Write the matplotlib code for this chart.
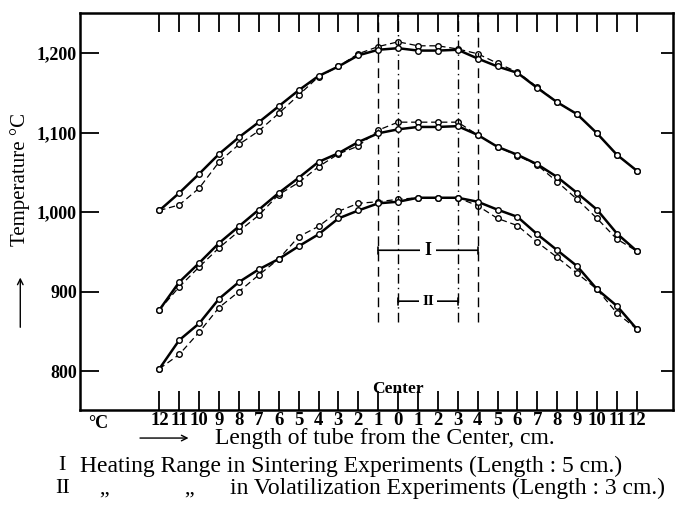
import numpy as np
import matplotlib
matplotlib.use('Agg')
import matplotlib.pyplot as plt

plt.rcParams['font.family'] = ['Liberation Serif', 'DejaVu Serif']

# distance from the centre of the tube, cm (left side shown as 12 ... 1)
pos = list(range(-12, 13))

# upper group of curves
upper_solid = [1002, 1024, 1048, 1073, 1094, 1113, 1133, 1153, 1171, 1183, 1197, 1204, 1206,
               1203, 1203, 1204, 1193, 1183, 1175, 1156, 1138, 1123, 1099, 1072, 1052]
upper_dash = [1002, 1009, 1030, 1063, 1085, 1102, 1124, 1147, 1170, 1183, 1199, 1208, 1214,
              1209, 1209, 1205, 1199, 1187, 1176, 1157, 1138, 1123, 1099, 1072, 1052]
# middle group
mid_solid = [877, 912, 936, 961, 982, 1003, 1024, 1043, 1063, 1074, 1088, 1099, 1104,
             1107, 1107, 1108, 1097, 1082, 1072, 1060, 1044, 1024, 1003, 973, 951]
mid_dash = [877, 906, 931, 955, 976, 996, 1022, 1037, 1057, 1073, 1083, 1103, 1113,
            1113, 1113, 1113, 1097, 1082, 1071, 1059, 1038, 1016, 992, 966, 951]
# lower group
low_solid = [803, 839, 860, 891, 912, 928, 941, 957, 972, 992, 1002, 1011, 1013,
             1018, 1018, 1018, 1013, 1003, 994, 972, 952, 932, 903, 882, 853]
low_dash = [803, 821, 849, 880, 900, 921, 941, 969, 982, 1001, 1011, 1013, 1016,
            1018, 1018, 1018, 1008, 992, 983, 962, 943, 923, 903, 873, 853]

y_ticks = [800, 900, 1000, 1100, 1200]
y_tick_labels = ['800', '900', '1,000', '1,100', '1,200']
x_tick_labels = [str(abs(p)) for p in pos]

# heating ranges: I (sintering) and II (volatilization)
range_I = (-1, 4)
range_II = (0, 3)

fig = plt.figure(figsize=(6.76, 5.07), dpi=100)
ax = fig.add_axes([0.118, 0.191, 0.877, 0.783])

for ys in (upper_solid, mid_solid, low_solid):
    ax.plot(pos, ys, color='black', lw=1.8, marker='o', ms=4, mfc='white', mec='black', mew=1, zorder=3)
for ys in (upper_dash, mid_dash, low_dash):
    ax.plot(pos, ys, color='black', lw=0.9, ls=(0, (5, 3)), marker='o', ms=4, mfc='white', mec='black',
            mew=1, zorder=2)

# boundary lines of the heating ranges
ax.vlines([range_I[0], range_I[1]], 862, 1250, colors='black', lw=1, linestyles=(0, (7, 4)))
ax.vlines([range_II[0], range_II[1]], 862, 1250, colors='black', lw=1, linestyles=(0, (7, 3, 1, 3)))

ax.annotate('', xy=(range_I[0], 952), xytext=(range_I[1], 952),
            arrowprops=dict(arrowstyle='|-|,widthA=0.25,widthB=0.25', lw=1.2, color='black', shrinkA=0, shrinkB=0))
ax.text(sum(range_I) / 2, 952, 'I', ha='center', va='center', fontsize=13, fontweight='bold',
        bbox=dict(fc='white', ec='none', pad=3))
ax.annotate('', xy=(range_II[0], 888), xytext=(range_II[1], 888),
            arrowprops=dict(arrowstyle='|-|,widthA=0.25,widthB=0.25', lw=1.2, color='black', shrinkA=0, shrinkB=0))
ax.text(sum(range_II) / 2, 888, 'II', ha='center', va='center', fontsize=11, fontweight='bold',
        bbox=dict(fc='white', ec='none', pad=2))

ax.set_xlim(-16, 13.8)
ax.set_ylim(751, 1250)
ax.set_xticks(pos)
ax.set_xticklabels(x_tick_labels, fontsize=13.5, fontweight='bold')
ax.set_yticks(y_ticks)
ax.set_yticklabels(y_tick_labels, fontsize=13, fontweight='bold')
ax.tick_params(axis='x', direction='in', length=14, width=1.3, top=True, pad=1)
ax.tick_params(axis='y', direction='in', length=14, width=1.3, pad=2)
for s in ax.spines.values():
    s.set_linewidth(1.8)

right = ax.secondary_yaxis('right')
right.set_yticks(y_ticks)
right.set_yticklabels([])
right.tick_params(direction='in', length=9, width=1.3)

ax.text(0, 768, 'Center', ha='center', va='bottom', fontsize=12.5, fontweight='bold')
ax.text(-15.6, 745, '°C', ha='left', va='top', fontsize=13, fontweight='bold')

fig.text(0.03, 0.645, 'Temperature °C', rotation=90, ha='center', va='center', fontsize=15)
fig.patches.append(matplotlib.patches.FancyArrowPatch((0.03, 0.349), (0.03, 0.458), transform=fig.transFigure,
                                                      arrowstyle='->,head_length=4,head_width=2', lw=1, color='black'))
fig.patches.append(matplotlib.patches.FancyArrowPatch((0.203, 0.136), (0.283, 0.136), transform=fig.transFigure,
                                                      arrowstyle='->,head_length=4,head_width=2', lw=1, color='black'))
fig.text(0.318, 0.136, 'Length of tube from the Center, cm.', ha='left', va='center', fontsize=17)

fig.text(0.092, 0.081, 'I', ha='center', va='center', fontsize=16)
fig.text(0.118, 0.081, 'Heating Range in Sintering Experiments (Length : 5 cm.)', ha='left', va='center',
         fontsize=17)
fig.text(0.092, 0.036, 'II', ha='center', va='center', fontsize=16)
fig.text(0.155, 0.036, ',,', ha='center', va='center', fontsize=16)
fig.text(0.28, 0.036, ',,', ha='center', va='center', fontsize=16)
fig.text(0.34, 0.036, 'in Volatilization Experiments (Length : 3 cm.)', ha='left', va='center', fontsize=17)

fig.savefig('out.png', dpi=100)
